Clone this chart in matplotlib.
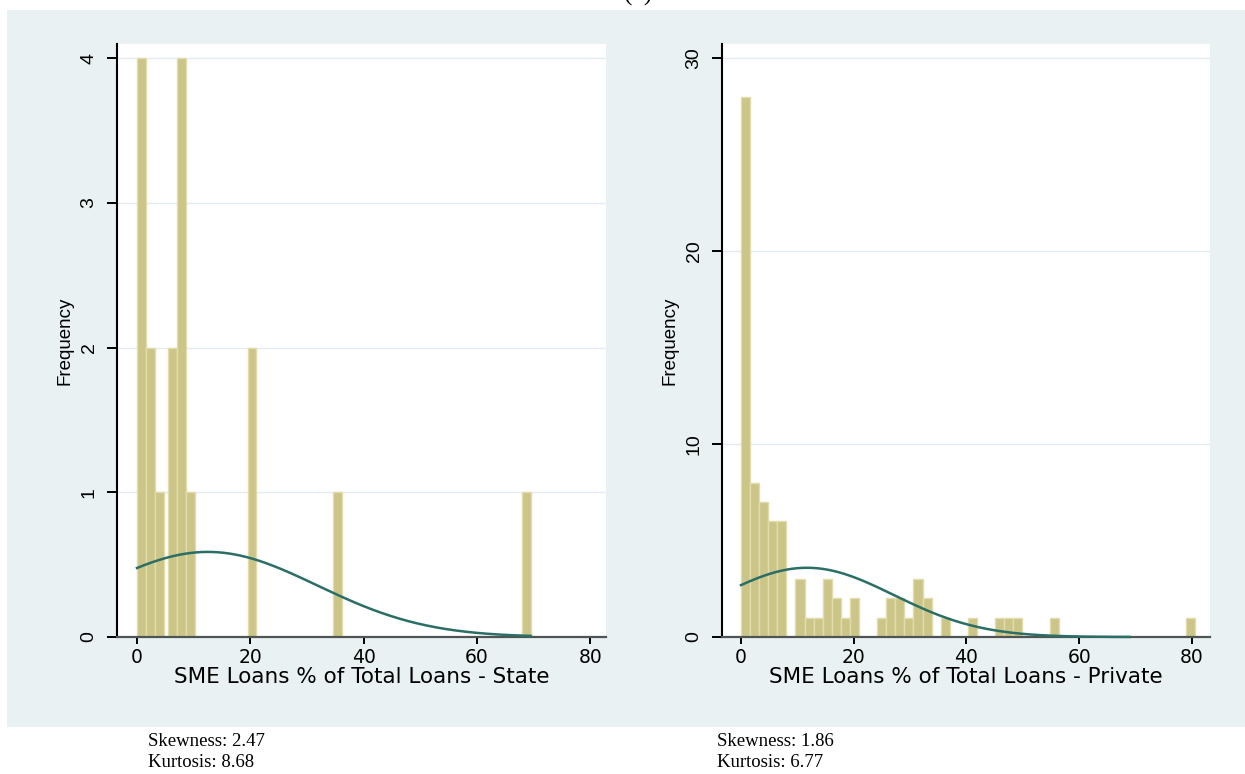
import matplotlib
matplotlib.use("Agg")
import matplotlib.pyplot as plt
import numpy as np
from matplotlib.patches import Rectangle

# --- state banks: bins (left edge, count) ---
STATE_BIN_LEFT = [0.0, 1.58, 3.16, 5.5, 7.08, 8.66, 19.5, 34.6, 68.0]
STATE_COUNT = [4, 2, 1, 2, 4, 1, 2, 1, 1]
STATE_BIN_WIDTH = 1.58
STATE_MEAN = 12.5
STATE_SD = 19.3
STATE_CURVE_MAX = 69.5
STATE_Y_TICKS = [0, 1, 2, 3, 4]
STATE_XLABEL = "SME Loans % of Total Loans - State"
STATE_STATS = ["Skewness: 2.47", "Kurtosis: 8.68"]

# --- private banks: 50 equal bins starting at 0 ---
PRIVATE_BIN_START = 0.0
PRIVATE_BIN_WIDTH = 1.61
PRIVATE_COUNT = [28, 8, 7, 6, 6, 0, 3, 1, 1, 3,
                 2, 1, 2, 0, 0, 1, 2, 2, 1, 3,
                 2, 0, 1, 0, 0, 1, 0, 0, 1, 1,
                 1, 0, 0, 0, 1, 0, 0, 0, 0, 0,
                 0, 0, 0, 0, 0, 0, 0, 0, 0, 1]
PRIVATE_MEAN = 11.7
PRIVATE_SD = 15.4
PRIVATE_CURVE_MAX = 69.0
PRIVATE_Y_TICKS = [0, 10, 20, 30]
PRIVATE_XLABEL = "SME Loans % of Total Loans - Private"
PRIVATE_STATS = ["Skewness: 1.86", "Kurtosis: 6.77"]

X_TICKS = [0, 20, 40, 60, 80]

W, H = 1245, 774
BG = "#EAF1F3"
BAR_FACE = "#CCC588"
BAR_EDGE = "#E2DCAC"
CURVE = "#2B6E66"
SANS = ["DejaVu Sans"]            # horizontal text (source is stretched wide)
ARIAL = ["Liberation Sans", "DejaVu Sans"]   # rotated text
SERIF = ["Liberation Serif", "DejaVu Serif"]


def px_box(x0, y0, x1, y1):
    """pixel box (top-left origin) -> figure fraction rect"""
    return [x0 / W, 1 - y1 / H, (x1 - x0) / W, (y1 - y0) / H]


def draw_panel(ax, lefts, counts, width, mean, sd, curve_max,
               yticks, ylim, xlim, xlabel):
    ax.set_facecolor("white")
    ax.bar(lefts, counts, width=width, align="edge", color=BAR_FACE,
           edgecolor=BAR_EDGE, linewidth=1.0, zorder=2)

    # normal density overlay, scaled to frequency
    n = sum(counts)
    xs = np.linspace(0, curve_max, 300)
    ys = n * width / (sd * np.sqrt(2 * np.pi)) * np.exp(-(xs - mean) ** 2 / (2 * sd ** 2))
    ax.plot(xs, ys, color=CURVE, linewidth=1.8, zorder=4, clip_on=False)

    ax.set_xlim(*xlim)
    ax.set_ylim(*ylim)
    ax.set_xticks(X_TICKS)
    ax.set_yticks(yticks)
    ax.set_xticklabels([str(t) for t in X_TICKS], family=SANS, fontsize=13.5)
    ax.set_yticklabels([str(t) for t in yticks], family=ARIAL, fontsize=14,
                       rotation=90, va="center")
    for t in yticks[1:]:
        ax.axhline(t, color="#E4ECF1", linewidth=1.0, zorder=1)

    for s in ("top", "right"):
        ax.spines[s].set_visible(False)
    ax.spines["left"].set_color("black")
    ax.spines["left"].set_linewidth(1.5)
    ax.spines["bottom"].set_color("#4F5555")
    ax.spines["bottom"].set_linewidth(1.6)
    ax.spines["bottom"].set_zorder(3)

    ax.tick_params(axis="x", direction="out", length=5, width=1.4,
                   color="black", pad=3)
    ax.tick_params(axis="y", direction="out", length=7, width=1.4,
                   color="black", pad=7)
    ax.set_xlabel(xlabel, family=SANS, fontsize=15.5, labelpad=0)
    ax.set_ylabel("Frequency", family=ARIAL, fontsize=13.5, labelpad=5)


def add_stats(fig, x_px, lines):
    for i, s in enumerate(lines):
        fig.text(x_px / W, 1 - (746 + 21 * i) / H, s, family=SERIF,
                 fontsize=13.5, ha="left", va="baseline")


if __name__ == "__main__":
    fig = plt.figure(figsize=(W / 100, H / 100), dpi=100)
    fig.patch.set_facecolor("white")
    fig.patches.append(Rectangle((7 / W, 1 - 727 / H), 1 - 7 / W, (727 - 10) / H,
                                 transform=fig.transFigure, facecolor=BG,
                                 edgecolor="none", zorder=-10))
    # panel letter, cut by the top edge in the source
    fig.text(0.513, 1 - 1 / H, "(b)", family=SERIF, fontsize=18,
             ha="center", va="baseline")

    ax1 = fig.add_axes(px_box(117, 44, 606, 637))
    draw_panel(ax1, STATE_BIN_LEFT, STATE_COUNT, STATE_BIN_WIDTH,
               STATE_MEAN, STATE_SD, STATE_CURVE_MAX, STATE_Y_TICKS,
               (0, 4.097), (-3.53, 82.76), STATE_XLABEL)

    private_left = PRIVATE_BIN_START + PRIVATE_BIN_WIDTH * np.arange(len(PRIVATE_COUNT))
    ax2 = fig.add_axes(px_box(722, 44, 1210, 637))
    draw_panel(ax2, private_left, PRIVATE_COUNT, PRIVATE_BIN_WIDTH,
               PRIVATE_MEAN, PRIVATE_SD, PRIVATE_CURVE_MAX, PRIVATE_Y_TICKS,
               (0, 30.72), (-3.37, 83.2), PRIVATE_XLABEL)

    add_stats(fig, 148, STATE_STATS)
    add_stats(fig, 717, PRIVATE_STATS)

    fig.savefig("out.png", dpi=100, facecolor=fig.get_facecolor())
